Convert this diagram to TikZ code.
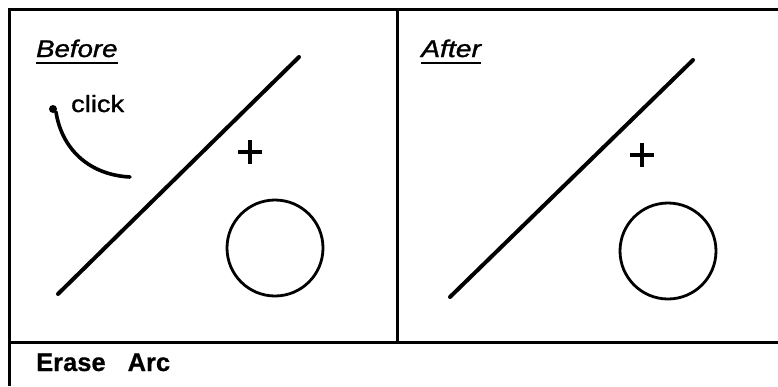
\documentclass[tikz,border=0pt]{standalone}
\usepackage{fontspec}
\setmainfont{Liberation Sans}
\newfontfamily\lblfont[FakeBold=1.2]{Liberation Sans}
\newfontfamily\capfont[FakeBold=0.6]{Liberation Sans Bold}
\usepackage{graphicx}
\begin{document}
\begin{tikzpicture}[x=1pt,y=-1pt,
  frame/.style={line width=3pt},
  stroke/.style={line width=4pt, line cap=round},
  ring/.style={line width=2.8pt},
  cross/.style={line width=3.2pt},
  lbl/.style={inner sep=0pt, anchor=base west, font=\fontsize{24}{24}\lblfont\itshape},
  uline/.style={line width=2.2pt}
]
\useasboundingbox (0,0) rectangle (778,386);
% frame
\draw[frame] (9,386) -- (9,9) -- (778,9);
\draw[frame] (9,342) -- (778,342);
\draw[frame] (397,9) -- (397,342);
% Before panel
\node[lbl] (before) at (36,57) {\scalebox{1.15}[1]{Before}};
\draw[uline] ([yshift=-6pt]before.base west) -- ([yshift=-6pt]before.base east);
\draw[stroke] (58,294) -- (299,57);
\draw[cross] (238,152) -- (262,152) (250,140) -- (250,164);
\draw[ring] (275,248) circle[radius=48];
\node[inner sep=0pt, anchor=base west, font=\fontsize{23.5}{24}\lblfont] (click) at (71,112) {\scalebox{1.16}[1]{click}};
\fill (53,109) circle[radius=4];
\draw[line width=3.6pt, line cap=round] (56,112) .. controls (62,150) and (90,175) .. (130,177);
% After panel
\node[lbl] (after) at (421,57) {\scalebox{1.18}[1]{After}};
\draw[uline] ([yshift=-6pt]after.base west) -- ([yshift=-6pt]after.base east);
\draw[stroke] (450,297) -- (693,60);
\draw[cross] (630,155) -- (654,155) (642,143) -- (642,167);
\draw[ring] (668,251) circle[radius=48];
% caption
\node[inner sep=0pt, anchor=base west, font=\fontsize{25.5}{26}\capfont] (title) at (36,371) {Erase\hspace{22pt}Arc};
\end{tikzpicture}
\end{document}
